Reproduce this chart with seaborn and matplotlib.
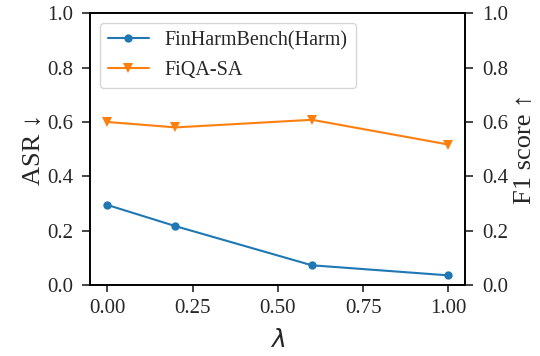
import matplotlib
matplotlib.use("Agg")
import matplotlib.pyplot as plt
import numpy as np
import pandas as pd
import seaborn as sns

sns.set_style("ticks")
plt.rcParams["font.family"] = ["Liberation Serif", "DejaVu Serif"]
plt.rcParams["mathtext.fontset"] = "dejavusans"

lambdas = [0.0, 0.2, 0.6, 1.0]
asr_harm = [0.295, 0.217, 0.073, 0.036]
f1_fiqa = [0.600, 0.580, 0.608, 0.517]

df = pd.DataFrame({"lam": lambdas, "asr": asr_harm, "f1": f1_fiqa})

fig, ax = plt.subplots(figsize=(5.4, 3.56), dpi=100)
plt.subplots_adjust(left=0.167, right=0.862, top=0.963, bottom=0.199)

blue = "#1f77b4"
orange = "#ff7f0e"

sns.lineplot(data=df, x="lam", y="asr", marker="o", markersize=6, markeredgewidth=0,
             color=blue, linewidth=1.5, ax=ax, label="FinHarmBench(Harm)", legend=False)
ax2 = ax.twinx()
sns.lineplot(data=df, x="lam", y="f1", marker="v", markersize=7, markeredgewidth=0,
             color=orange, linewidth=1.5, ax=ax2, label="FiQA-SA", legend=False)

for a in (ax, ax2):
    a.set_ylim(0, 1)
    a.set_yticks(np.arange(0, 1.01, 0.2))
    a.tick_params(labelsize=15, width=1.2, length=6, pad=6)
    for s in a.spines.values():
        s.set_linewidth(1.2)
        s.set_color("black")
ax.set_xticks([0, 0.25, 0.5, 0.75, 1.0])
ax.set_xticklabels(["0.00", "0.25", "0.50", "0.75", "1.00"])
ax.tick_params(axis="x", length=5, pad=5)

ax.set_xlabel(r"$\lambda$", fontsize=18)
ax.xaxis.set_label_coords(0.5, -0.16)
ax.set_ylabel("ASR ↓", fontsize=19, labelpad=2)
ax2.set_ylabel("F1 score ↑", fontsize=19, labelpad=4)

h1, l1 = ax.get_legend_handles_labels()
h2, l2 = ax2.get_legend_handles_labels()
ax.legend(h1 + h2, l1 + l2, loc="upper left", fontsize=14.5, frameon=True)

plt.savefig("out.png")
